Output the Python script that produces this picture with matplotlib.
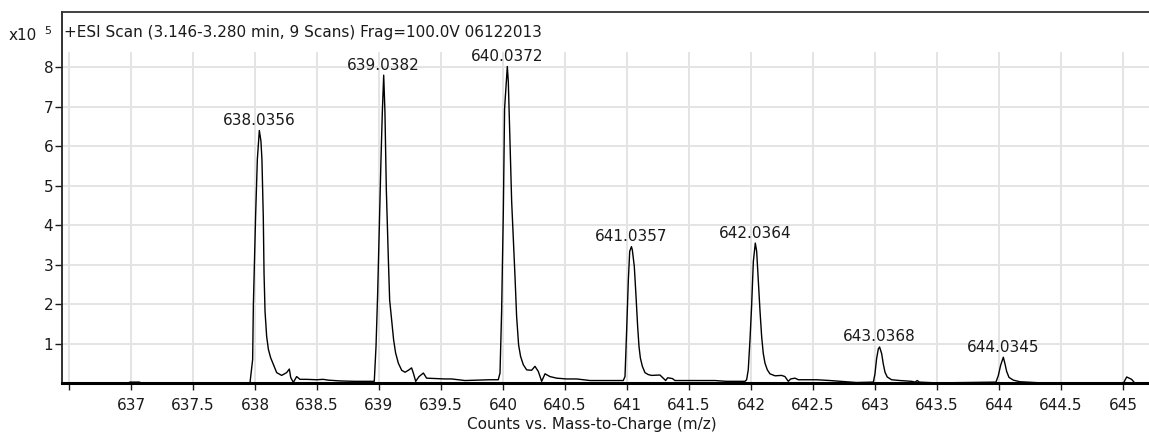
import matplotlib
matplotlib.use("Agg")
import matplotlib.pyplot as plt
import numpy as np

plt.rcParams['font.family'] = ['DejaVu Sans']

# ---------------- data ----------------
# intensities in units of 10^5 counts
mz_base1 = [636.446, 636.98, 636.99, 637.07, 637.08, 637.95]
int_base1 = [0.0, 0.0, 0.03, 0.03, 0.0, 0.0]

mz_638 = [637.960, 637.981, 637.987, 638.005, 638.019, 638.035, 638.048, 638.056,
          638.067, 638.073, 638.081, 638.094, 638.108, 638.126, 638.148, 638.175,
          638.215, 638.255, 638.277, 638.288, 638.309, 638.336, 638.363, 638.417,
          638.497, 638.551, 638.591, 638.685, 638.80, 638.90]
int_638 = [0.02, 0.60, 1.99, 4.24, 5.67, 6.40, 6.13, 5.67,
           4.20, 2.78, 1.82, 1.19, 0.86, 0.65, 0.48, 0.27,
           0.20, 0.27, 0.36, 0.15, 0.02, 0.17, 0.10, 0.10,
           0.09, 0.10, 0.08, 0.06, 0.05, 0.05]

mz_639 = [638.962, 638.976, 638.989, 639.000, 639.016, 639.027, 639.038, 639.048,
          639.059, 639.075, 639.086, 639.102, 639.118, 639.134, 639.156, 639.183,
          639.210, 639.237, 639.263, 639.277, 639.296, 639.323, 639.358, 639.384,
          639.452, 639.532, 639.586, 639.694, 639.80]
int_639 = [0.05, 0.93, 2.24, 3.63, 5.65, 6.87, 7.80, 6.87,
           4.93, 3.20, 2.11, 1.61, 1.10, 0.77, 0.51, 0.33,
           0.28, 0.33, 0.39, 0.26, 0.05, 0.17, 0.26, 0.13,
           0.12, 0.11, 0.11, 0.07, 0.08]

mz_640 = [639.895, 639.962, 639.976, 639.989, 640.003, 640.013, 640.035, 640.043,
          640.056, 640.070, 640.083, 640.097, 640.110, 640.126, 640.142, 640.164,
          640.191, 640.231, 640.258, 640.285, 640.312, 640.339, 640.379, 640.433,
          640.513, 640.594, 640.702, 640.80]
int_640 = [0.09, 0.09, 0.26, 1.82, 4.39, 6.96, 8.02, 7.63,
           6.16, 4.60, 3.71, 2.70, 1.69, 0.97, 0.68, 0.47,
           0.34, 0.33, 0.43, 0.30, 0.05, 0.24, 0.17, 0.13,
           0.11, 0.11, 0.07, 0.07]

mz_641 = [640.903, 640.970, 640.984, 640.997, 641.011, 641.022, 641.036, 641.043,
          641.059, 641.073, 641.086, 641.097, 641.108, 641.124, 641.145, 641.172,
          641.199, 641.266, 641.293, 641.312, 641.328, 641.366, 641.387, 641.522,
          641.710, 641.80]
int_641 = [0.07, 0.07, 0.17, 1.31, 2.62, 3.34, 3.46, 3.38,
           2.96, 2.20, 1.44, 0.93, 0.64, 0.43, 0.27, 0.22,
           0.20, 0.21, 0.13, 0.07, 0.14, 0.12, 0.07, 0.07,
           0.07, 0.05]

mz_642 = [641.911, 641.952, 641.965, 641.978, 641.992, 642.005, 642.019, 642.035,
          642.046, 642.059, 642.073, 642.086, 642.099, 642.113, 642.132, 642.153,
          642.194, 642.247, 642.274, 642.301, 642.320, 642.355, 642.382, 642.530,
          642.637, 642.718, 642.85]
int_642 = [0.05, 0.05, 0.09, 0.34, 1.10, 1.94, 3.08, 3.55,
           3.34, 2.62, 1.82, 1.19, 0.76, 0.51, 0.34, 0.24,
           0.19, 0.20, 0.17, 0.05, 0.11, 0.13, 0.09, 0.09,
           0.07, 0.05, 0.02]

mz_643 = [642.987, 643.000, 643.013, 643.027, 643.037, 643.054, 643.067, 643.081,
          643.099, 643.134, 643.202, 643.296, 643.323, 643.341, 643.358, 643.50]
int_643 = [0.03, 0.24, 0.62, 0.87, 0.92, 0.75, 0.49, 0.28,
           0.16, 0.09, 0.07, 0.05, 0.03, 0.07, 0.03, 0.01]

mz_644 = [643.976, 643.995, 644.013, 644.035, 644.048, 644.062, 644.081, 644.116,
          644.169, 644.40]
int_644 = [0.03, 0.20, 0.45, 0.66, 0.50, 0.30, 0.15, 0.08,
           0.04, 0.0]

mz_645 = [645.003, 645.030, 645.070, 645.097, 645.21]
int_645 = [0.0, 0.16, 0.10, 0.0, 0.0]

peak_labels = ["638.0356", "639.0382", "640.0372", "641.0357",
               "642.0364", "643.0368", "644.0345"]
peak_heights = [6.40, 7.80, 8.02, 3.46, 3.55, 0.92, 0.66]

x_ticks = [636.5, 637, 637.5, 638, 638.5, 639, 639.5, 640, 640.5, 641,
           641.5, 642, 642.5, 643, 643.5, 644, 644.5, 645]
x_tick_labels = ["", "637", "637.5", "638", "638.5", "639", "639.5", "640",
                 "640.5", "641", "641.5", "642", "642.5", "643", "643.5",
                 "644", "644.5", "645"]
y_ticks = [1, 2, 3, 4, 5, 6, 7, 8]

title_text = "+ESI Scan (3.146-3.280 min, 9 Scans) Frag=100.0V 06122013"
x_label = "Counts vs. Mass-to-Charge (m/z)"

# ---------------- figure ----------------
W, H = 1149, 434
FS = 11
TXT = '#1a1a1a'
fig = plt.figure(figsize=(W / 100, H / 100), dpi=100)
ax_left, ax_right = 62.3, 1149.0
ax_top, ax_bottom = 12.0, 383.3
ax = fig.add_axes([ax_left / W, 1 - ax_bottom / H,
                   (ax_right - ax_left) / W, (ax_bottom - ax_top) / H])

px_per_unit = 39.5
ax.set_ylim(0, (ax_bottom - ax_top) / px_per_unit)
ax.set_xlim(636.446, 645.21)
grid_top = (ax_bottom - 52) / px_per_unit

grid_color = '#e4e4e4'
for yv in y_ticks:
    ax.axhline(yv, color=grid_color, lw=1.4, zorder=0)
for xv in x_ticks:
    ax.plot([xv, xv], [0, grid_top], color=grid_color, lw=1.4, zorder=0,
            solid_capstyle='butt')

mz_all = np.concatenate([mz_base1, mz_638, mz_639, mz_640, mz_641, mz_642,
                         mz_643, mz_644, mz_645])
int_all = np.concatenate([int_base1, int_638, int_639, int_640, int_641, int_642,
                          int_643, int_644, int_645])
ax.plot(mz_all, int_all, color='black', lw=1.0, zorder=3, clip_on=False)

peak_mz = [float(s) for s in peak_labels]
for lab, mzv, hv in zip(peak_labels, peak_mz, peak_heights):
    ax.annotate(lab, xy=(mzv, hv), xytext=(0, 1.8), textcoords='offset points',
                ha='center', va='bottom', fontsize=FS, color=TXT, zorder=4)

ax.set_xticks(x_ticks)
ax.set_xticklabels(x_tick_labels)
ax.set_yticks(y_ticks)
ax.set_yticklabels([str(v) for v in y_ticks])
ax.tick_params(axis='both', direction='out', colors=TXT, labelsize=FS)
ax.tick_params(axis='x', length=5, width=1.0, pad=5.5)
ax.tick_params(axis='y', length=5, width=1.0, pad=1.5)

ax.spines['right'].set_visible(False)
ax.spines['left'].set_linewidth(1.3)
ax.spines['left'].set_color('#222222')
ax.spines['top'].set_linewidth(1.3)
ax.spines['top'].set_color('#333333')
ax.spines['bottom'].set_linewidth(2.2)
ax.spines['bottom'].set_color('black')

fig.text(64 / W, 1 - 33 / H, title_text, ha='left', va='center',
         fontsize=FS, color=TXT)
fig.text(9 / W, 1 - 35 / H, "x10", ha='left', va='center',
         fontsize=FS, color=TXT)
fig.text(44 / W, 1 - 31 / H, "5", ha='left', va='center',
         fontsize=8, color=TXT)
fig.text(592 / W, 1 - 424 / H, x_label, ha='center', va='center',
         fontsize=FS, color=TXT)

fig.savefig("out.png", dpi=100)
